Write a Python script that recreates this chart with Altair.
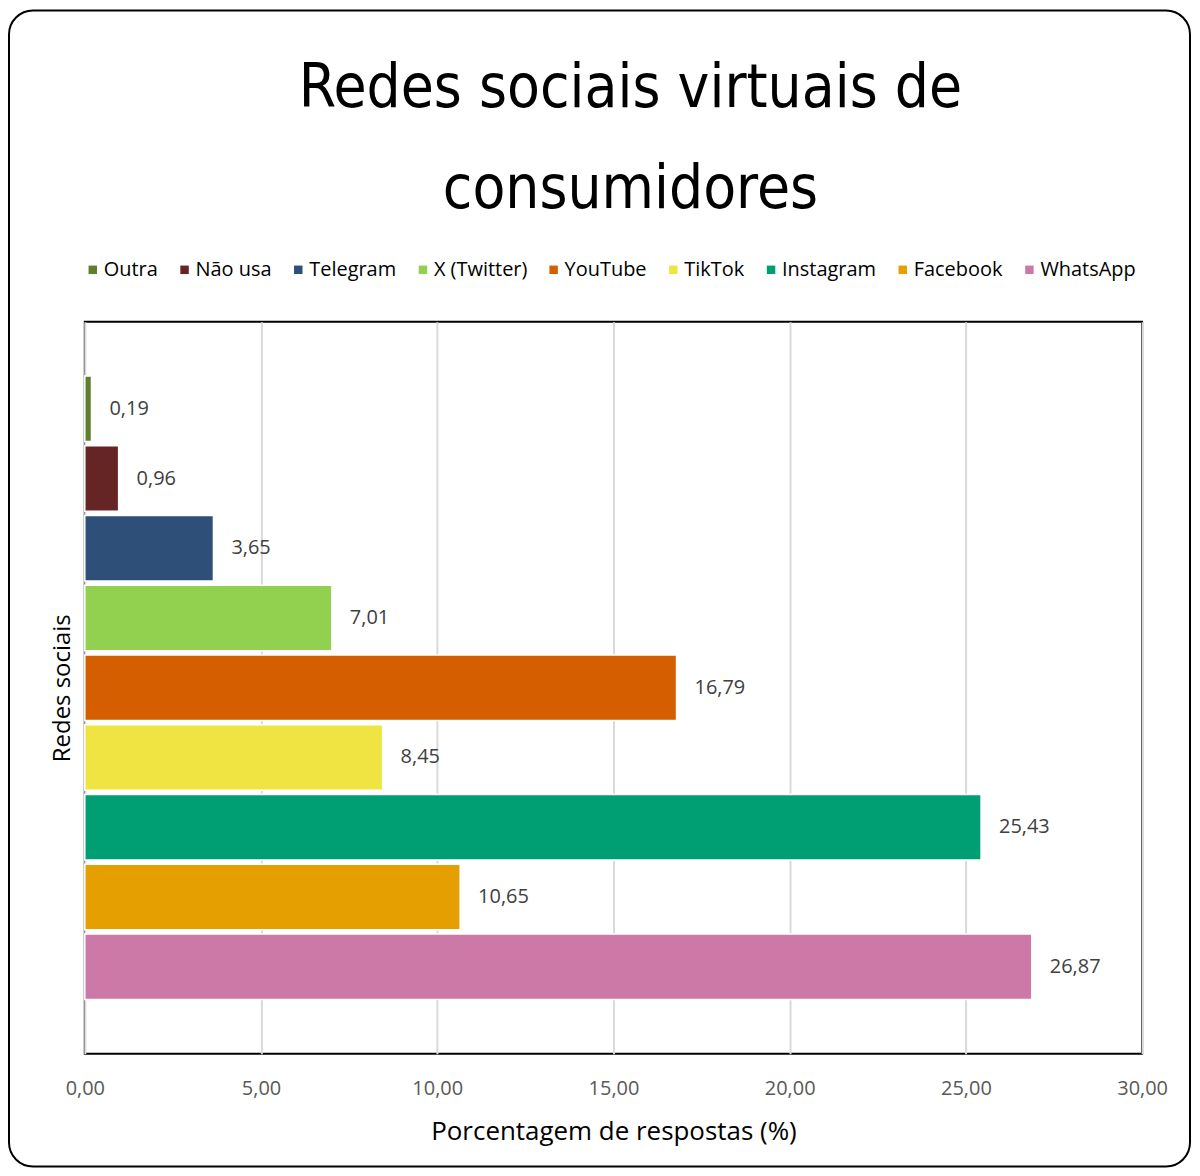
import altair as alt
import pandas as pd

categories = ["Outra", "Não usa", "Telegram", "X (Twitter)", "YouTube",
              "TikTok", "Instagram", "Facebook", "WhatsApp"]
values = [0.19, 0.96, 3.65, 7.01, 16.79, 8.45, 25.43, 10.65, 26.87]
colors = ["#5f7f2f", "#662525", "#2e4f78", "#92d050", "#d55e00",
          "#f0e442", "#009e73", "#e69f00", "#cc79a7"]
x_ticks = [0, 5, 10, 15, 20, 25, 30]

df = pd.DataFrame({"rede": categories, "pct": values})

FONT = "Open Sans"
fmt = "replace(format(datum.value, '.2f'), '.', ',')"

base = alt.Chart(df)

bars = base.mark_bar(stroke="white", strokeWidth=1.5).encode(
    x=alt.X(
        "pct:Q",
        scale=alt.Scale(domain=[0, 30], nice=False),
        axis=alt.Axis(
            values=x_ticks, labelExpr=fmt, title="Porcentagem de respostas (%)",
            labelFont=FONT, labelFontSize=20, labelColor="#595959", labelPadding=25,
            labelFlush=False,
            titleFont=FONT, titleFontSize=26, titleColor="black", titleFontWeight="normal",
            titlePadding=20, ticks=False, domain=False, grid=True,
            gridColor="#d9d9d9", gridWidth=2,
        ),
    ),
    y=alt.Y(
        "rede:N", sort=categories,
        scale=alt.Scale(paddingInner=0.06, paddingOuter=0.78),
        axis=alt.Axis(
            title="Redes sociais", labels=False, ticks=False, domain=False, grid=False,
            titleFont=FONT, titleFontSize=24, titleColor="black", titleFontWeight="normal",
            titlePadding=10,
        ),
    ),
    color=alt.Color(
        "rede:N",
        scale=alt.Scale(domain=categories, range=colors),
        legend=alt.Legend(
            title=None, orient="none", direction="horizontal", columns=9,
            legendX=-2, legendY=-62, symbolType="square", symbolSize=72,
            symbolStrokeWidth=0, labelFont=FONT, labelFontSize=20, labelColor="black",
            labelOffset=1, columnPadding=16,
        ),
    ),
)

text = base.transform_calculate(
    lbl="replace(format(datum.pct, '.2f'), '.', ',')"
).mark_text(
    align="left", baseline="middle", dx=18, fontSize=20, color="#404040", font=FONT
).encode(
    x="pct:Q",
    y=alt.Y("rede:N", sort=categories),
    text="lbl:N",
)

frame = alt.Chart(alt.Data(values=[{"a": 1}])).mark_rect(
    fillOpacity=0, stroke="black", strokeWidth=2, cornerRadius=24
).encode(
    x=alt.value(-76), x2=alt.value(1108), y=alt.value(-312), y2=alt.value(847)
)

chart = alt.layer(frame, bars, text).properties(
    width=1060,
    height=734,
    autosize=alt.AutoSizeParams(type="none"),
    padding={"left": 77, "top": 313, "right": 50, "bottom": 115},
    title=alt.TitleParams(
        text=["Redes sociais virtuais de", "consumidores"],
        font="Liberation Sans Narrow, DejaVu Sans Condensed, sans-serif",
        fontSize=60, lineHeight=101, fontWeight="normal", color="black",
        anchor="middle", baseline="bottom", dx=17, offset=-272,
    ),
).configure_view(stroke="black", strokeWidth=2)

chart.save("out.html", embed_options={"renderer": "svg", "actions": False})
